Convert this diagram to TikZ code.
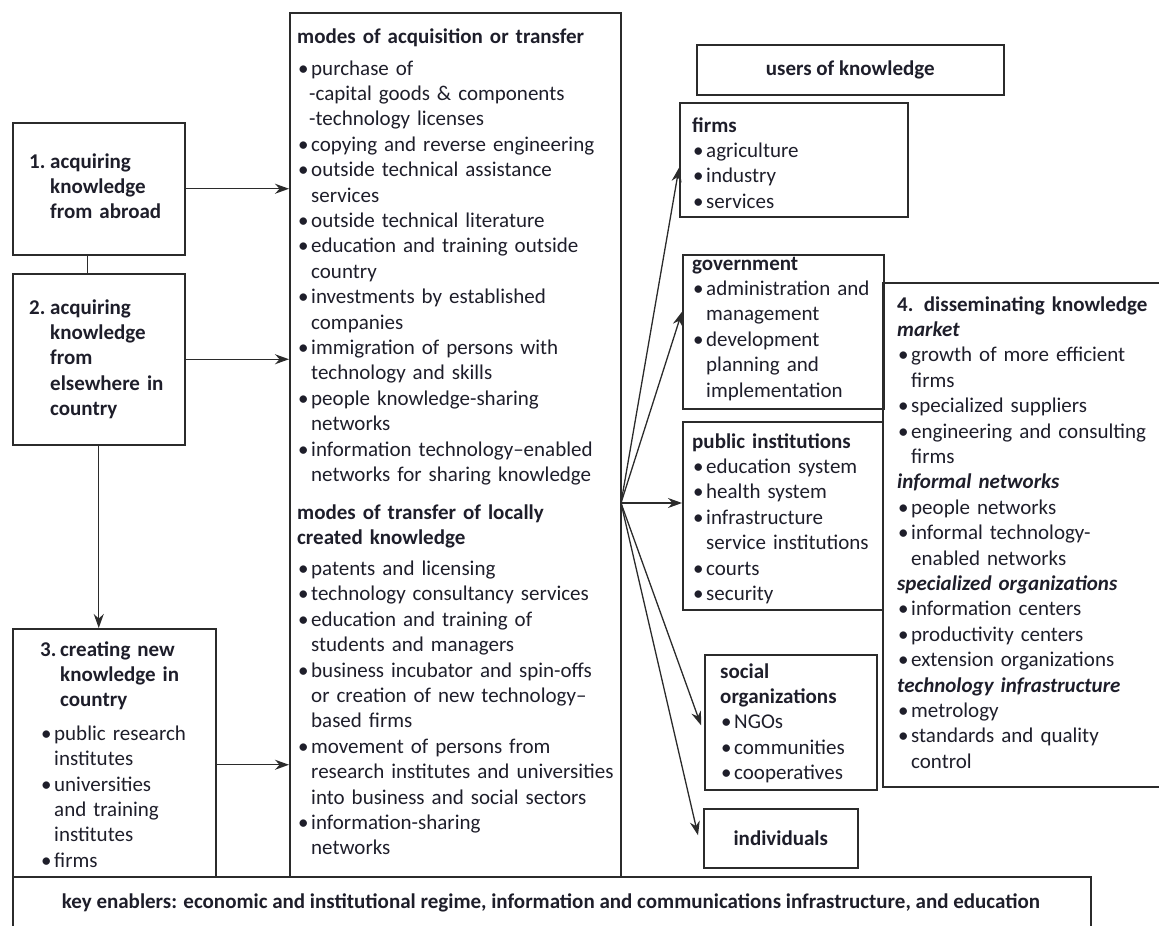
\documentclass[tikz,border=0pt]{standalone}
\usepackage{fontspec}
\setmainfont{Carlito}
\usetikzlibrary{arrows.meta}
\definecolor{linecol}{HTML}{2B2B2B}
\definecolor{txtcol}{HTML}{1E1E2A}
\newcommand{\bu}{\makebox[14pt][l]{\hspace{1pt}\textbullet}}
\newcommand{\ind}{\hspace*{14pt}}
\begin{document}
\begin{tikzpicture}[x=1pt,y=-1pt,
  box/.style={draw=linecol, line width=1.5pt, inner sep=0pt, anchor=north west},
  txt/.style={anchor=base west, inner sep=0pt, text width=#1, align=left, text=txtcol,
              font=\fontsize{21}{25.4}\selectfont},
  ctxt/.style={inner sep=0pt, text=txtcol, font=\fontsize{21}{25.4}\selectfont\bfseries},
  arr/.style={draw=linecol, line width=1.3pt, -{Stealth[length=14pt,width=10pt]}},
  conn/.style={draw=linecol, line width=1.3pt}]
\useasboundingbox (0,0) rectangle (1159,926);

% ---------- left column ----------
\node[box, minimum width=172pt, minimum height=132pt] (b1) at (12,122) {};
\node[txt=150pt] (t1) at (29,168) {\bfseries\makebox[21pt][l]{1.}acquiring\\
\hspace*{21pt}knowledge\\
\hspace*{21pt}from abroad};

\node[box, minimum width=172pt, minimum height=171pt] (b2) at (12,273) {};
\node[txt=150pt] (t2) at (29,314) {\bfseries\makebox[21pt][l]{2.}acquiring\\
\hspace*{21pt}knowledge\\
\hspace*{21pt}from\\
\hspace*{21pt}elsewhere in\\
\hspace*{21pt}country};

\node[box, minimum width=203pt, minimum height=248pt] (b3) at (12,628) {};
\node[txt=170pt] (t3) at (40,656) {{\bfseries\makebox[20pt][l]{3.}creating new}\\
{\bfseries\hspace*{20pt}knowledge in}\\
{\bfseries\hspace*{20pt}country}\\[8pt]
\bu public research\\
\ind institutes\\
\bu universities\\
\ind and training\\
\ind institutes\\
\bu firms};

% ---------- middle column ----------
\node[box, minimum width=331pt, minimum height=864pt] (mid) at (289,12) {};
\node[txt=322pt] (tm) at (297,43) {{\bfseries modes of acquisition or transfer}\\[6.6pt]
\bu purchase of\\
\hspace*{12pt}-capital goods \& components\\
\hspace*{12pt}-technology licenses\\
\bu copying and reverse engineering\\
\bu outside technical assistance\\
\ind services\\
\bu outside technical literature\\
\bu education and training outside\\
\ind country\\
\bu investments by established\\
\ind companies\\
\bu immigration of persons with\\
\ind technology and skills\\
\bu people knowledge-sharing\\
\ind networks\\
\bu information technology–enabled\\
\ind networks for sharing knowledge\\[12.2pt]
{\bfseries modes of transfer of locally}\\
{\bfseries created knowledge}\\[5.6pt]
\bu patents and licensing\\
\bu technology consultancy services\\
\bu education and training of\\
\ind students and managers\\
\bu business incubator and spin-offs\\
\ind or creation of new technology–\\
\ind based firms\\
\bu movement of persons from\\
\ind research institutes and universities\\
\ind into business and social sectors\\
\bu information-sharing\\
\ind networks};

% ---------- key enablers ----------
\node[box, minimum width=1078pt, minimum height=62pt] (key) at (12,876) {};
\node[ctxt] (tk) at (551,903) {key enablers: economic and institutional regime, information and communications infrastructure, and education};

% ---------- users of knowledge ----------
\node[box, minimum width=307pt, minimum height=50pt] (users) at (696,44) {};
\node[ctxt] (tu) at (users.center) {users of knowledge};

\node[box, minimum width=228pt, minimum height=114pt] (firms) at (679,102) {};
\node[txt=205pt] (tf) at (692,132) {{\bfseries firms}\\
\bu agriculture\\
\bu industry\\
\bu services};

\node[box, minimum width=201pt, minimum height=154pt] (gov) at (682,254) {};
\node[txt=190pt] (tg) at (692,270) {{\bfseries government}\\
\bu administration and\\
\ind management\\
\bu development\\
\ind planning and\\
\ind implementation};

\node[box, minimum width=200pt, minimum height=188pt] (pub) at (682,421) {};
\node[txt=190pt] (tp) at (692,448) {{\bfseries public institutions}\\
\bu education system\\
\bu health system\\
\bu infrastructure\\
\ind service institutions\\
\bu courts\\
\bu security};

\node[box, minimum width=172pt, minimum height=135pt] (soc) at (704,654) {};
\node[txt=150pt] (ts) at (720,678) {{\bfseries social}\\
{\bfseries organizations}\\
\bu NGOs\\
\bu communities\\
\bu cooperatives};

\node[box, minimum width=154pt, minimum height=59pt] (ind) at (703,808) {};
\node[ctxt] (ti) at (ind.center) {individuals};

% ---------- disseminating ----------
\node[box, minimum width=290pt, minimum height=504pt] (diss) at (882,282) {};
\node[txt=275pt] (td) at (897,311) {{\bfseries 4. disseminating knowledge}\\
{\bfseries\itshape market}\\
\bu growth of more efficient\\
\ind firms\\
\bu specialized suppliers\\
\bu engineering and consulting\\
\ind firms\\
{\bfseries\itshape informal networks}\\
\bu people networks\\
\bu informal technology-\\
\ind enabled networks\\
{\bfseries\itshape specialized organizations}\\
\bu information centers\\
\bu productivity centers\\
\bu extension organizations\\
{\bfseries\itshape technology infrastructure}\\
\bu metrology\\
\bu standards and quality\\
\ind control};

% ---------- connectors ----------
\draw[conn] ([xshift=-11pt]b1.south) -- ([xshift=-11pt]b1.south |- b2.north);
\draw[arr] (b1.east) -- (b1.east -| mid.west);
\draw[arr] (b2.east) -- (b2.east -| mid.west);
\draw[arr] (b2.south) -- (b2.south |- b3.north);
\draw[arr] ([yshift=-12pt]b3.east) -- ([yshift=-12pt]b3.east -| mid.west);

\coordinate (fan) at (621,503);
\draw[arr] (fan) -- ([yshift=-8pt]firms.west);
\draw[arr] (fan) -- ([yshift=20pt]gov.west);
\draw[arr] (fan) -- (fan -| pub.west);
\draw[arr] (fan) -- ([xshift=-3pt,yshift=-3pt]soc.west);
\draw[arr] (fan) -- ([xshift=-5pt,yshift=3pt]ind.west);
\end{tikzpicture}
\end{document}
